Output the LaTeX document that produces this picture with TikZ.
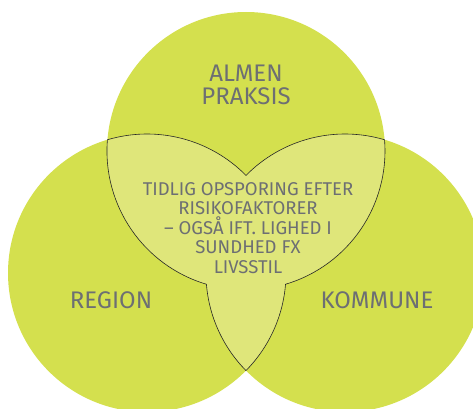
\documentclass[tikz,border=0pt]{standalone}
\usepackage{fontspec}
\setmainfont{Fira Sans}
\definecolor{venngreen}{HTML}{D4E04E}
\definecolor{vennlight}{HTML}{DFE67A}
\definecolor{venntext}{HTML}{6D6F73}
\begin{document}
\begin{tikzpicture}[x=1pt,y=1pt,
	circletext/.style={text=venntext, font=\fontsize{24}{23}\selectfont, align=center},
	overlaptext/.style={text=venntext, font=\fontsize{18.5}{19.6}\selectfont, align=center}]
	% Define the variables
	\def\rad{139}
	
	\useasboundingbox (0,0) rectangle (473,408);
	\clip (0,0) rectangle (473,408);
	
	% Circles
	\fill[venngreen] (246,257) circle (\rad);
	\fill[venngreen] (147,135) circle (\rad);
	\fill[venngreen] (345,135) circle (\rad);
	
	% Overlap
	\filldraw[fill=vennlight, draw=black!85, line width=0.6pt]
	(107.46,268.25) arc[start angle=106.53, end angle=44.59, radius=\rad]
	arc[start angle=135.41, end angle=73.47, radius=\rad]
	arc[start angle=4.64, end angle=-73.47, radius=\rad]
	arc[start angle=-4.64, end angle=-44.59, radius=\rad]
	arc[start angle=-135.41, end angle=-175.36, radius=\rad]
	arc[start angle=253.47, end angle=175.36, radius=\rad] -- cycle;
	
	% Labels
	\node[circletext] (almen) at (246,323) {ALMEN\\PRAKSIS};
	\node[circletext] (region) at (111,108) {REGION};
	\node[circletext] (kommune) at (377,108) {KOMMUNE};
	\node[overlaptext] (faelles) at (248,180) {TIDLIG OPSPORING EFTER\\RISIKOFAKTORER\\– OGSÅ IFT. LIGHED I\\SUNDHED FX\\LIVSSTIL};
\end{tikzpicture}
\end{document}
